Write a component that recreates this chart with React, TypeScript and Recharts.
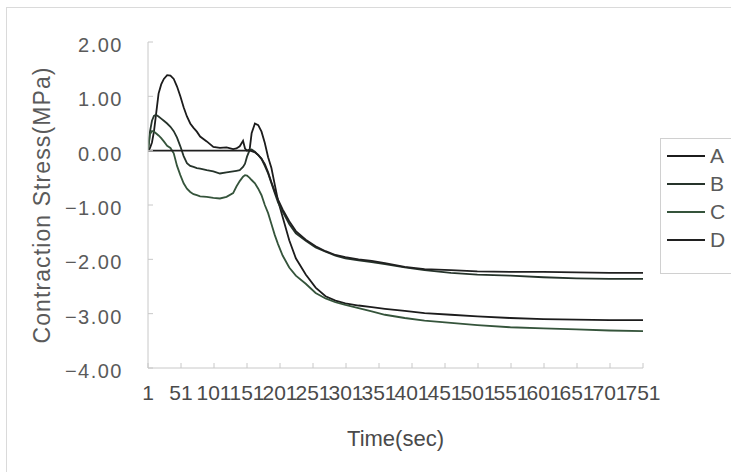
import React from 'react';
import { LineChart, Line, XAxis, YAxis, Legend } from 'recharts';

const TIME = [1, 4, 7, 10, 13, 17, 21, 25, 30, 35, 40, 45, 50, 55, 60, 65, 70, 75, 80, 90, 100, 110, 120, 130, 135, 140, 145, 148, 151, 155, 158, 163, 168, 173, 178, 183, 188, 193, 198, 205, 215, 225, 240, 255, 270, 285, 300, 320, 340, 360, 390, 420, 460, 500, 550, 600, 650, 700, 751];

const SERIES_A = [0, 0.05, 0.15, 0.35, 0.65, 1.05, 1.22, 1.32, 1.39, 1.38, 1.32, 1.18, 1.0, 0.8, 0.63, 0.5, 0.42, 0.35, 0.26, 0.17, 0.07, 0.05, 0.06, 0.03, 0.04, 0.08, 0.18, 0.04, 0.0, 0.02, 0.32, 0.5, 0.47, 0.35, 0.14, -0.12, -0.32, -0.62, -0.92, -1.22, -1.65, -1.98, -2.28, -2.52, -2.68, -2.76, -2.81, -2.85, -2.88, -2.91, -2.95, -2.99, -3.02, -3.05, -3.08, -3.1, -3.11, -3.12, -3.12];

const SERIES_B = [0, 0.35, 0.55, 0.64, 0.66, 0.63, 0.59, 0.55, 0.5, 0.44, 0.36, 0.24, 0.08, -0.1, -0.23, -0.28, -0.3, -0.32, -0.33, -0.36, -0.38, -0.42, -0.4, -0.38, -0.37, -0.36, -0.3, -0.24, -0.11, 0.01, 0.02, -0.02, -0.08, -0.15, -0.28, -0.42, -0.6, -0.78, -0.95, -1.12, -1.35, -1.52, -1.66, -1.78, -1.86, -1.93, -1.98, -2.02, -2.05, -2.09, -2.15, -2.2, -2.25, -2.28, -2.3, -2.33, -2.35, -2.36, -2.36];

const SERIES_C = [0, 0.3, 0.36, 0.35, 0.32, 0.28, 0.23, 0.17, 0.09, 0.05, -0.05, -0.28, -0.45, -0.6, -0.7, -0.76, -0.8, -0.82, -0.84, -0.85, -0.87, -0.88, -0.85, -0.78, -0.66, -0.56, -0.48, -0.45, -0.46, -0.5, -0.54, -0.6, -0.7, -0.82, -1.0, -1.15, -1.35, -1.55, -1.72, -1.93, -2.15, -2.3, -2.45, -2.62, -2.72, -2.79, -2.84, -2.9, -2.96, -3.02, -3.08, -3.13, -3.17, -3.21, -3.25, -3.27, -3.29, -3.31, -3.32];

const SERIES_D = [0, 0, 0, 0, 0, 0, 0, 0, 0, 0, 0, 0, 0, 0, 0, 0, 0, 0, 0, 0, 0, 0, 0, 0, 0, 0, 0, 0, 0, 0, -0.01, -0.03, -0.08, -0.15, -0.25, -0.4, -0.58, -0.75, -0.9, -1.08, -1.3, -1.48, -1.64, -1.76, -1.85, -1.92, -1.96, -2.0, -2.03, -2.07, -2.14, -2.18, -2.2, -2.22, -2.23, -2.23, -2.24, -2.25, -2.25];

const SERIES_NAMES = ['A', 'B', 'C', 'D'];
const SERIES_COLORS = ['#1c1c1c', '#26342b', '#35543b', '#202020'];
const X_TICKS = [1, 51, 101, 151, 201, 251, 301, 351, 401, 451, 501, 551, 601, 651, 701, 751];
const Y_TICKS = [2, 1, 0, -1, -2, -3, -4];
const X_TITLE = 'Time(sec)';
const Y_TITLE = 'Contraction Stress(MPa)';

const SERIES = [SERIES_A, SERIES_B, SERIES_C, SERIES_D];
const data = TIME.map((t, i) => {
  const row: Record<string, number> = { t };
  SERIES_NAMES.forEach((n, k) => { row[n] = SERIES[k][i]; });
  return row;
});

const FONT = '"Liberation Sans", Arial, sans-serif';
const TEXT_COLOR = '#5a5a5a';

const fmtY = (v: number) => (v < 0 ? '\u2212' + Math.abs(v).toFixed(2) : v.toFixed(2));

const YTick = (props: any) => {
  const { x, y, payload } = props;
  return (
    <text x={x - 30} y={y} dy={10} textAnchor="end" fontFamily={FONT} fontSize={20} letterSpacing={1.5} fill={TEXT_COLOR}>
      {fmtY(payload.value)}
    </text>
  );
};

const XTick = (props: any) => {
  const { x, y, payload } = props;
  return (
    <text x={x} y={y + 37} textAnchor="middle" fontFamily={FONT} fontSize={21} fill="#4a4a4a">
      {String(payload.value)}
    </text>
  );
};

const LegendContent = () => (
  <div style={{ border: '1px solid #d0d0d0', background: '#fff', padding: '3px 0 19px 6px', width: 90, boxSizing: 'border-box', fontFamily: FONT }}>
    {SERIES_NAMES.map((n, i) => (
      <div key={n} style={{ height: 28, display: 'flex', alignItems: 'center' }}>
        <svg width={40} height={10} style={{ display: 'block' }}>
          <line x1={0} y1={5} x2={38} y2={5} stroke={SERIES_COLORS[i]} strokeWidth={2} />
        </svg>
        <span style={{ fontSize: 21, color: TEXT_COLOR, marginLeft: 3, lineHeight: '28px' }}>{n}</span>
      </div>
    ))}
  </div>
);

export default function App() {
  return (
    <div style={{ position: 'absolute', left: 0, top: 0, width: 731, height: 472, overflow: 'hidden', background: '#fff' }}>
      <div style={{ position: 'absolute', left: 6, top: 7, width: 760, height: 500, border: '1px solid #dadada' }} />
      <div style={{ position: 'absolute', left: 0, top: 0 }}>
        <LineChart width={731} height={472} data={data} margin={{ top: 42, right: 88, bottom: 44, left: 48 }}>
          <XAxis
            dataKey="t"
            type="number"
            domain={[1, 751]}
            ticks={X_TICKS}
            interval={0}
            tick={<XTick />}
            tickSize={-5}
            tickMargin={0}
            height={60}
            stroke="#c8c8c8"
            allowDataOverflow
            label={{
              content: (p: any) => {
                const vb = p.viewBox;
                return (
                  <text x={vb.x + vb.width / 2} y={vb.y + 78} textAnchor="middle" fontFamily={FONT} fontSize={22} fill="#4a4a4a">
                    {X_TITLE}
                  </text>
                );
              },
            }}
          />
          <YAxis
            type="number"
            domain={[-4, 2]}
            ticks={Y_TICKS}
            interval={0}
            tick={<YTick />}
            tickSize={-5}
            tickMargin={0}
            width={100}
            stroke="#c8c8c8"
            allowDataOverflow
            label={{
              content: (p: any) => {
                const vb = p.viewBox;
                const cx = vb.x - 6;
                const cy = vb.y + vb.height / 2;
                return (
                  <text x={cx} y={cy} transform={`rotate(-90, ${cx}, ${cy})`} textAnchor="middle" dominantBaseline="central" fontFamily={FONT} fontSize={23} letterSpacing={1.1} fill={TEXT_COLOR}>
                    {Y_TITLE}
                  </text>
                );
              },
            }}
          />
          <Legend
            layout="vertical"
            verticalAlign="middle"
            align="center"
            content={<LegendContent />}
            wrapperStyle={{ left: 660, top: 138, width: 90, height: 134 }}
          />
          {SERIES_NAMES.map((n, i) => (
            <Line key={n} type="linear" dataKey={n} stroke={SERIES_COLORS[i]} strokeWidth={1.8} dot={false} isAnimationActive={false} />
          ))}
        </LineChart>
      </div>
    </div>
  );
}
